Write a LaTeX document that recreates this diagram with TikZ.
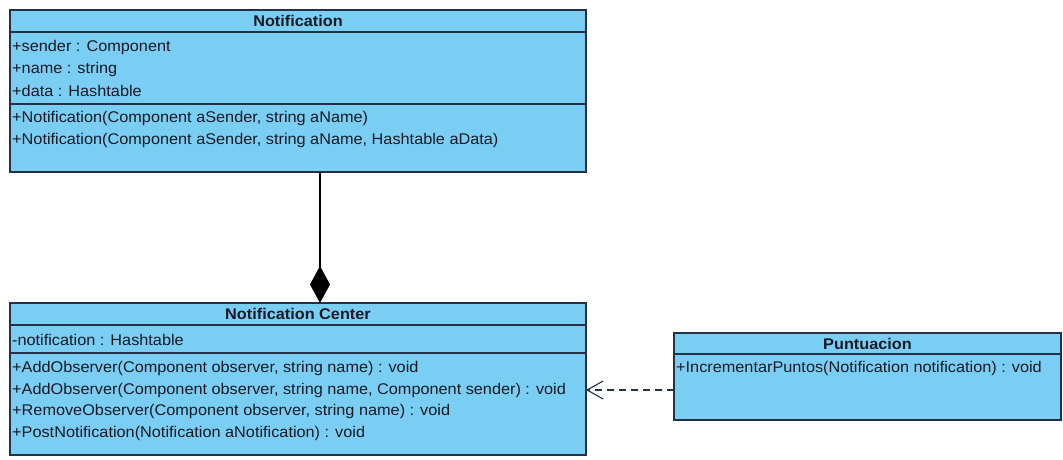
\documentclass[tikz,border=0pt]{standalone}
\usepackage{fontspec}
\setmainfont{Liberation Sans}[FakeStretch=1.05]
\usetikzlibrary{arrows.meta}
\definecolor{classfill}{RGB}{122,206,244}
\definecolor{classline}{RGB}{36,48,70}
\definecolor{classtext}{RGB}{22,26,36}

\begin{document}
\begin{tikzpicture}[x=1pt,y=-1pt,
  classbox/.style={draw=classline, fill=classfill, line width=1.2pt, anchor=north west,
                   inner sep=0pt, outer sep=0pt},
  member/.style={anchor=west, inner sep=0pt, text=classtext,
                 font=\fontsize{15.5}{18}\selectfont},
  classtitle/.style={inner sep=0pt, text=classtext,
                     font=\fontsize{15.5}{18}\selectfont\bfseries},
  compartment/.style={draw=classline, line width=1.2pt},
  composition/.style={draw=black, line width=1.3pt, -{Diamond[length=37pt,width=20pt]}},
  dependency/.style={draw=classline, line width=1.1pt, dash pattern=on 7pt off 5pt,
                     -{Straight Barb[length=16pt,width=18pt]}},
]
\useasboundingbox (0,0) rectangle (1063,459);

% class Notification
\node[classbox, minimum width=576pt, minimum height=162pt] (notif) at (10,10) {};
\draw[compartment] (notif.west |- 0,32) -- (notif.east |- 0,32);
\draw[compartment] (notif.west |- 0,104) -- (notif.east |- 0,104);
\node[classtitle] (notifTitle) at (298,21) {Notification};
\node[member] (notifA1) at (12,47) {+sender : Component};
\node[member] (notifA2) at (12,69) {+name : string};
\node[member] (notifA3) at (12,91) {+data : Hashtable};
\node[member] (notifO1) at (12,118) {+Notification(Component aSender, string aName)};
\node[member] (notifO2) at (12,140) {+Notification(Component aSender, string aName, Hashtable aData)};

% class Notification Center
\node[classbox, minimum width=576pt, minimum height=152pt] (center) at (10,303) {};
\draw[compartment] (center.west |- 0,325) -- (center.east |- 0,325);
\draw[compartment] (center.west |- 0,353) -- (center.east |- 0,353);
\node[classtitle] (centerTitle) at (298,314) {Notification Center};
\node[member] (centerA1) at (12,340) {-notification : Hashtable};
\node[member] (centerO1) at (12,368) {+AddObserver(Component observer, string name) : void};
\node[member] (centerO2) at (12,390) {+AddObserver(Component observer, string name, Component sender) : void};
\node[member] (centerO3) at (12,411.5) {+RemoveObserver(Component observer, string name) : void};
\node[member] (centerO4) at (12,433) {+PostNotification(Notification aNotification) : void};

% class Puntuacion
\node[classbox, minimum width=387pt, minimum height=87pt] (punt) at (674,333) {};
\draw[compartment] (punt.west |- 0,354) -- (punt.east |- 0,354);
\node[classtitle] (puntTitle) at (867.5,343.5) {Puntuacion};
\node[member] (puntO1) at (676,368) {+IncrementarPuntos(Notification notification) : void};

% relationships
\coordinate (aggx) at (320,0);
\draw[composition] (notif.south -| aggx) -- (center.north -| aggx);
\draw[dependency] (punt.west |- 0,390) -- (center.east |- 0,390);
\end{tikzpicture}
\end{document}
